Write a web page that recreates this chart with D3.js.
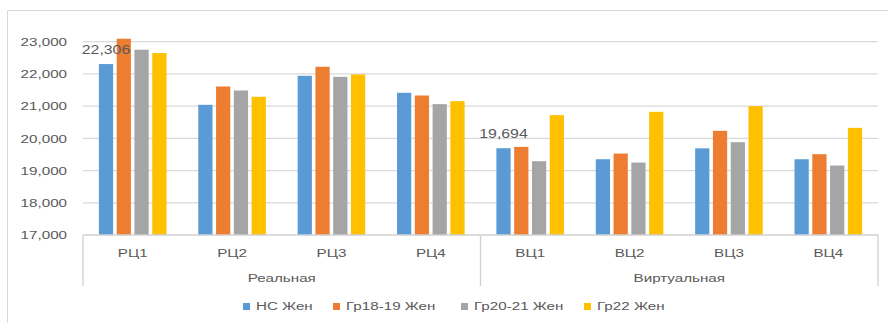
<!DOCTYPE html>
<html>
<head>
<meta charset="utf-8">
<script src="https://cdn.jsdelivr.net/npm/d3@7"></script>
<style>
  html, body { margin: 0; padding: 0; background: #fff; }
  svg { display: block; }
  text { font-family: "Liberation Sans", Arial, sans-serif; fill: #595959; }
</style>
</head>
<body>
<svg id="chart" width="888" height="323"></svg>
<script>
// Categories (two-level axis) and series
const categories = ["РЦ1", "РЦ2", "РЦ3", "РЦ4", "ВЦ1", "ВЦ2", "ВЦ3", "ВЦ4"];
const groupNames = ["Реальная", "Виртуальная"];
const categoryGroup = ["Реальная", "Реальная", "Реальная", "Реальная",
                       "Виртуальная", "Виртуальная", "Виртуальная", "Виртуальная"];
const seriesNames = ["НС Жен", "Гр18-19 Жен", "Гр20-21 Жен", "Гр22 Жен"];
const nsZhen  = [22306, 21041, 21942, 21414, 19694, 19352, 19690, 19352];
const gr1819  = [23093, 21610, 22222, 21330, 19735, 19528, 20233, 19508];
const gr2021  = [22751, 21486, 21911, 21062, 19290, 19248, 19881, 19155];
const gr22    = [22648, 21290, 21983, 21155, 20720, 20823, 21000, 20326];
const yTicks  = [17000, 18000, 19000, 20000, 21000, 22000, 23000];
// data labels shown for the first series at these categories
const labelledCategories = ["РЦ1", "ВЦ1"];

const seriesValues = [nsZhen, gr1819, gr2021, gr22];
const colors = ["#5b9bd5", "#ed7d31", "#a5a5a5", "#ffc000"];

const svg = d3.select("#chart");
const SX = 1.32;           // horizontal text stretch
const fmt = d3.format(",");

const plot = { left: 83, right: 878, top: 41.7, bottom: 235 };

const x0 = d3.scaleBand().domain(categories)
  .range([plot.left, plot.right]).paddingInner(0.32).paddingOuter(0.16);
const x1 = d3.scaleBand().domain(seriesNames)
  .range([0, x0.bandwidth()]).paddingInner(0.2);
const y = d3.scaleLinear().domain([17000, 23000]).range([plot.bottom, plot.top]);

// outer chart frame
svg.append("path")
  .attr("d", "M7.5,323 L7.5,10.5 L888,10.5")
  .attr("fill", "none").attr("stroke", "#d9d9d9").attr("stroke-width", 1);

// gridlines
svg.append("g").selectAll("line").data(yTicks.slice(1)).join("line")
  .attr("x1", plot.left).attr("x2", plot.right)
  .attr("y1", d => y(d)).attr("y2", d => y(d))
  .attr("stroke", "#d9d9d9").attr("stroke-width", 1.3);

// y axis labels
const yAxis = svg.append("g")
  .attr("transform", `translate(${plot.left},0)`)
  .call(d3.axisLeft(y).tickValues(yTicks).tickFormat(fmt).tickSize(0).tickPadding(16));
yAxis.select(".domain").remove();
yAxis.selectAll("text")
  .attr("font-size", 11.5).attr("font-family", null).attr("fill", "#595959")
  .attr("x", -16 / SX)
  .attr("transform", `scale(${SX},1)`);

// bars
const catG = svg.append("g").selectAll("g").data(categories).join("g")
  .attr("transform", d => `translate(${x0(d)},0)`);
catG.selectAll("rect")
  .data((c, i) => seriesNames.map((s, k) => ({ s, k, v: seriesValues[k][i] })))
  .join("rect")
  .attr("x", d => x1(d.s))
  .attr("width", x1.bandwidth())
  .attr("y", d => y(d.v))
  .attr("height", d => y(17000) - y(d.v))
  .attr("fill", d => colors[d.k]);

// data labels
labelledCategories.forEach(c => {
  const i = categories.indexOf(c);
  const v = nsZhen[i];
  const cx = x0(c) + x1(seriesNames[0]) + x1.bandwidth() / 2;
  svg.append("text")
    .attr("transform", `translate(${cx},${y(v) - 10}) scale(${SX},1)`)
    .attr("text-anchor", "middle")
    .attr("font-size", 12)
    .attr("fill", "#404040")
    .text(fmt(v));
});

// category axis
svg.append("line")
  .attr("x1", plot.left).attr("x2", plot.right)
  .attr("y1", plot.bottom).attr("y2", plot.bottom)
  .attr("stroke", "#d0d0d0").attr("stroke-width", 1.3);

// separators between the groups
const groupBounds = groupNames.map(g => {
  const cats = categories.filter((c, i) => categoryGroup[i] === g);
  const a = x0(cats[0]) - x0.step() * x0.paddingInner() / 2;
  const b = x0(cats[cats.length - 1]) + x0.bandwidth() + x0.step() * x0.paddingInner() / 2;
  return { g, a, b };
});
const sepXs = [plot.left, ...groupBounds.map(d => d.b)];
svg.append("g").selectAll("line").data(sepXs).join("line")
  .attr("x1", d => d).attr("x2", d => d)
  .attr("y1", plot.bottom).attr("y2", 286)
  .attr("stroke", "#d0d0d0").attr("stroke-width", 1.3);

// category labels
svg.append("g").selectAll("text").data(categories).join("text")
  .attr("transform", d => `translate(${x0(d) + x0.bandwidth() / 2},257) scale(${SX},1)`)
  .attr("text-anchor", "middle").attr("font-size", 11.5)
  .text(d => d);

// group labels
svg.append("g").selectAll("text").data(groupBounds).join("text")
  .attr("transform", d => `translate(${(d.a + d.b) / 2},282) scale(${SX},1)`)
  .attr("text-anchor", "middle").attr("font-size", 11.5)
  .text(d => d.g);

// legend
const legendX = [243, 333, 461, 584];
const leg = svg.append("g").selectAll("g").data(seriesNames).join("g")
  .attr("transform", (d, i) => `translate(${legendX[i]},0)`);
leg.append("rect").attr("x", 0).attr("y", 303).attr("width", 7).attr("height", 7)
  .attr("fill", (d, i) => colors[i]);
leg.append("text")
  .attr("transform", `translate(13,310) scale(${SX},1)`)
  .attr("font-size", 11.5)
  .text(d => d);
</script>
</body>
</html>
